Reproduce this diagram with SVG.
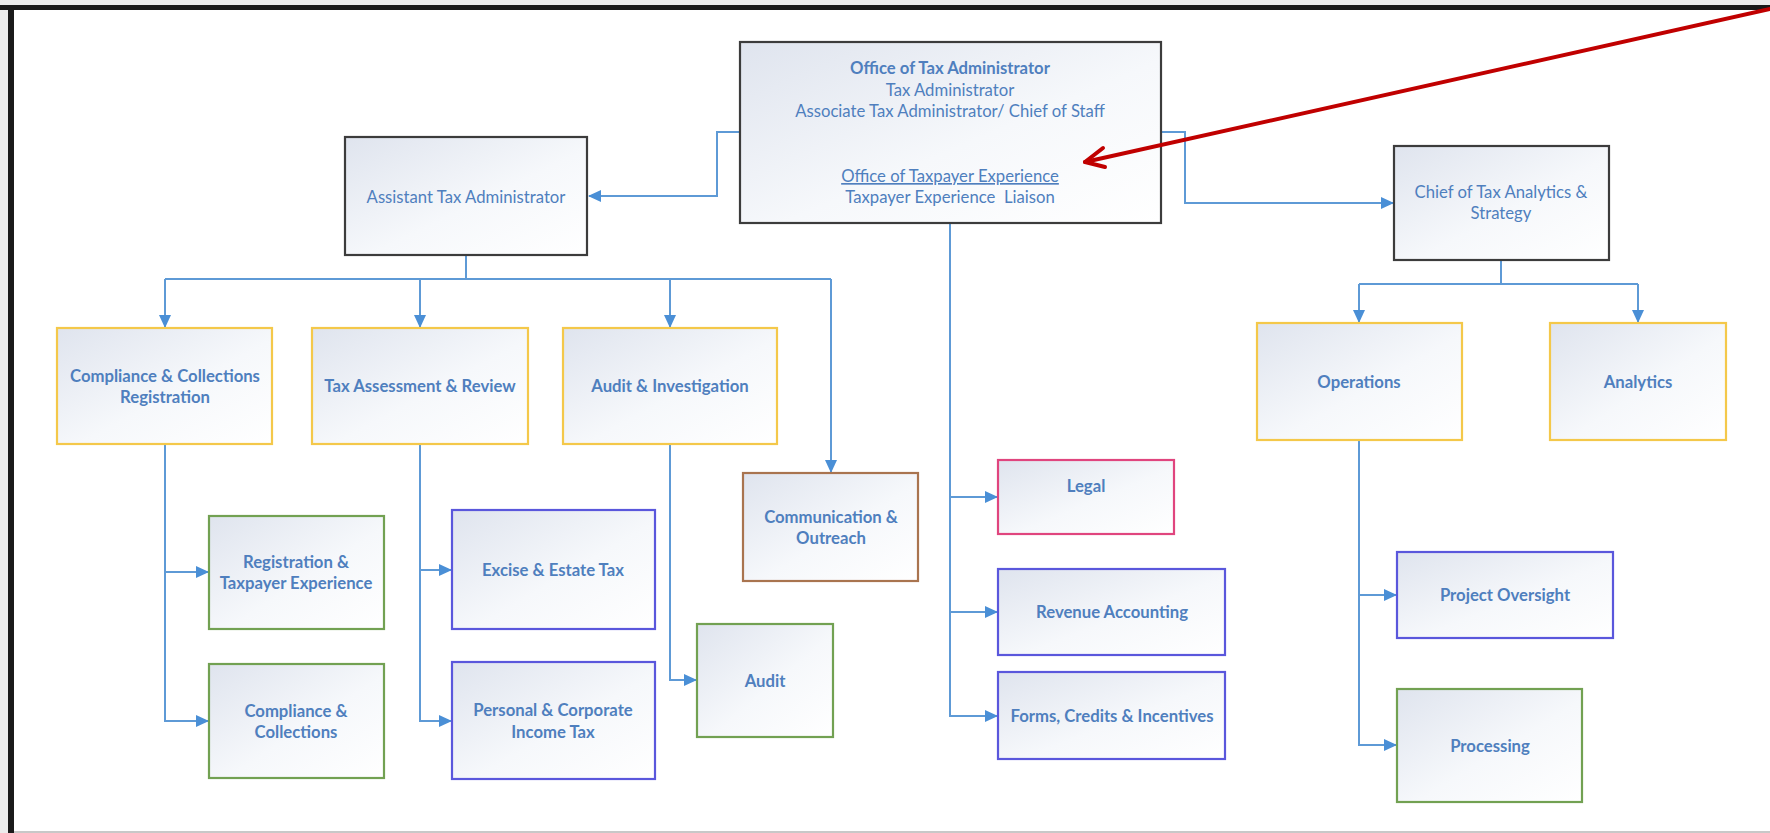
<svg xmlns="http://www.w3.org/2000/svg" width="1770" height="833" viewBox="0 0 1770 833">
<defs>
<linearGradient id="bg" x1="0" y1="0" x2="1" y2="1">
<stop offset="0" stop-color="#dfe4ee"/>
<stop offset="0.55" stop-color="#f6f8fb"/>
<stop offset="1" stop-color="#ffffff"/>
</linearGradient>
<marker id="ah" markerWidth="13" markerHeight="13" refX="12" refY="6.5" orient="auto" markerUnits="userSpaceOnUse">
<path d="M0,0.5 L13,6.5 L0,12.5 Z" fill="#4a8fd6"/>
</marker>
<style>
.box{fill:url(#bg);stroke-width:2.2}
.k{stroke:#3c3c3c}
.y{stroke:#f4c84a}
.g{stroke:#72a152}
.p{stroke:#5a57dc}
.b{stroke:#a9744f}
.r{stroke:#e0457e}
text{font-family:Lato,"Liberation Sans",sans-serif;fill:#4f7fbe;text-anchor:middle;font-size:16.7px}
.t{font-weight:bold}
.c{fill:none;stroke:#5e9ad6;stroke-width:2}
</style>
</defs>
<rect x="0" y="0" width="1770" height="833" fill="#ececec"/>
<rect x="11" y="8" width="1759" height="823" fill="#ffffff"/>
<rect x="0" y="5" width="1770" height="5" fill="#1a1a1a"/>
<rect x="8" y="5" width="6" height="828" fill="#1a1a1a"/>
<rect x="14" y="831" width="1756" height="2" fill="#c8c8c8"/>

<g id="connectors">
<path class="c" d="M740,132 H717 V196 H589" marker-end="url(#ah)"/>
<path class="c" d="M1161,132 H1185 V203 H1393" marker-end="url(#ah)"/>
<path class="c" d="M466,255 V279 M165,279 H831"/>
<path class="c" d="M165,279 V327" marker-end="url(#ah)"/>
<path class="c" d="M420,279 V327" marker-end="url(#ah)"/>
<path class="c" d="M670,279 V327" marker-end="url(#ah)"/>
<path class="c" d="M831,279 V472" marker-end="url(#ah)"/>
<path class="c" d="M165,444 V572 H208" marker-end="url(#ah)"/>
<path class="c" d="M165,572 V721 H208" marker-end="url(#ah)"/>
<path class="c" d="M420,444 V570 H451" marker-end="url(#ah)"/>
<path class="c" d="M420,570 V721 H451" marker-end="url(#ah)"/>
<path class="c" d="M670,444 V680 H696" marker-end="url(#ah)"/>
<path class="c" d="M950,223 V497 H997" marker-end="url(#ah)"/>
<path class="c" d="M950,497 V612 H997" marker-end="url(#ah)"/>
<path class="c" d="M950,612 V716 H997" marker-end="url(#ah)"/>
<path class="c" d="M1501,260 V284 M1359,284 H1638"/>
<path class="c" d="M1359,284 V322" marker-end="url(#ah)"/>
<path class="c" d="M1638,284 V322" marker-end="url(#ah)"/>
<path class="c" d="M1359,440 V595 H1396" marker-end="url(#ah)"/>
<path class="c" d="M1359,595 V745 H1396" marker-end="url(#ah)"/>
</g>

<g id="office">
<rect class="box k" x="740" y="42" width="421" height="181"/>
<text x="950" y="74" class="t">Office of Tax Administrator</text>
<text x="950" y="96">Tax Administrator</text>
<text x="950" y="117">Associate Tax Administrator/ Chief of Staff</text>
<text x="950" y="182" text-decoration="underline">Office of Taxpayer Experience</text>
<text x="950" y="203" xml:space="preserve">Taxpayer Experience  Liaison</text>
</g>
<g id="assistant">
<rect class="box k" x="345" y="137" width="242" height="118"/>
<text x="466" y="203">Assistant Tax Administrator</text>
</g>
<g id="chief">
<rect class="box k" x="1394" y="146" width="215" height="114"/>
<text x="1501" y="198">Chief of Tax Analytics &amp;</text>
<text x="1501" y="219">Strategy</text>
</g>
<g id="compliance-registration">
<rect class="box y" x="57" y="328" width="215" height="116"/>
<text x="165" y="382" class="t">Compliance &amp; Collections</text>
<text x="165" y="403" class="t">Registration</text>
</g>
<g id="tax-assessment">
<rect class="box y" x="312" y="328" width="216" height="116"/>
<text x="420" y="392" class="t">Tax Assessment &amp; Review</text>
</g>
<g id="audit-investigation">
<rect class="box y" x="563" y="328" width="214" height="116"/>
<text x="670" y="392" class="t">Audit &amp; Investigation</text>
</g>
<g id="communication">
<rect class="box b" x="743" y="473" width="175" height="108"/>
<text x="831" y="523" class="t">Communication &amp;</text>
<text x="831" y="544" class="t">Outreach</text>
</g>
<g id="registration-experience">
<rect class="box g" x="209" y="516" width="175" height="113"/>
<text x="296" y="568" class="t">Registration &amp;</text>
<text x="296" y="589" class="t">Taxpayer Experience</text>
</g>
<g id="compliance-collections">
<rect class="box g" x="209" y="664" width="175" height="114"/>
<text x="296" y="717" class="t">Compliance &amp;</text>
<text x="296" y="738" class="t">Collections</text>
</g>
<g id="excise">
<rect class="box p" x="452" y="510" width="203" height="119"/>
<text x="553" y="576" class="t">Excise &amp; Estate Tax</text>
</g>
<g id="personal-corporate">
<rect class="box p" x="452" y="662" width="203" height="117"/>
<text x="553" y="716" class="t">Personal &amp; Corporate</text>
<text x="553" y="738" class="t">Income Tax</text>
</g>
<g id="audit">
<rect class="box g" x="697" y="624" width="136" height="113"/>
<text x="765" y="687" class="t">Audit</text>
</g>
<g id="legal">
<rect class="box r" x="998" y="460" width="176" height="74"/>
<text x="1086" y="492" class="t">Legal</text>
</g>
<g id="revenue">
<rect class="box p" x="998" y="569" width="227" height="86"/>
<text x="1112" y="618" class="t">Revenue Accounting</text>
</g>
<g id="forms">
<rect class="box p" x="998" y="672" width="227" height="87"/>
<text x="1112" y="722" class="t">Forms, Credits &amp; Incentives</text>
</g>
<g id="operations">
<rect class="box y" x="1257" y="323" width="205" height="117"/>
<text x="1359" y="388" class="t">Operations</text>
</g>
<g id="analytics">
<rect class="box y" x="1550" y="323" width="176" height="117"/>
<text x="1638" y="388" class="t">Analytics</text>
</g>
<g id="project-oversight">
<rect class="box p" x="1397" y="552" width="216" height="86"/>
<text x="1505" y="601" class="t">Project Oversight</text>
</g>
<g id="processing">
<rect class="box g" x="1397" y="689" width="185" height="113"/>
<text x="1490" y="752" class="t">Processing</text>
</g>

<g id="pointer" fill="none" stroke="#c00000" stroke-width="4" stroke-linecap="round" stroke-linejoin="round">
<path d="M1085,162 L1770,9"/>
<path d="M1103,148 L1085,162 L1105,167"/>
</g>
</svg>
